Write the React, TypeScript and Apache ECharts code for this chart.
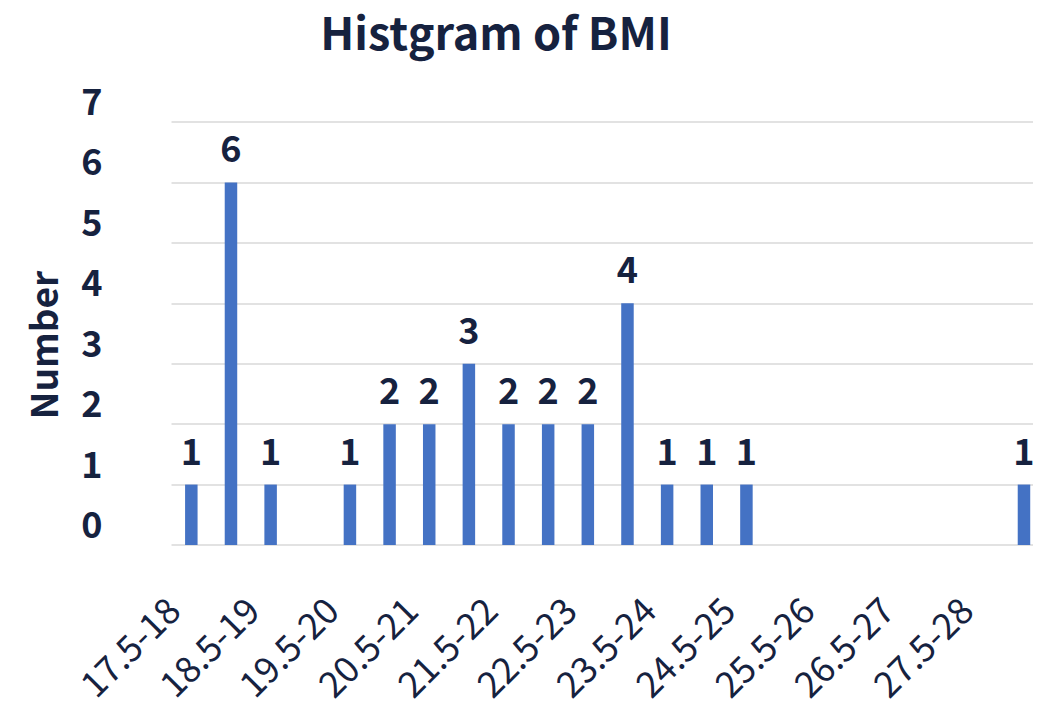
import React, { useEffect, useRef } from "react";
import * as echarts from "echarts";

const categories = [
  "17.5-18", "18-18.5", "18.5-19", "19-19.5", "19.5-20", "20-20.5", "20.5-21", "21-21.5",
  "21.5-22", "22-22.5", "22.5-23", "23-23.5", "23.5-24", "24-24.5", "24.5-25", "25-25.5",
  "25.5-26", "26-26.5", "26.5-27", "27-27.5", "27.5-28", "28-28.5",
];
const counts = [1, 6, 1, 0, 1, 2, 2, 3, 2, 2, 2, 4, 1, 1, 1, 0, 0, 0, 0, 0, 0, 1];
const xTickLabels = [
  "17.5-18", "18.5-19", "19.5-20", "20.5-21", "21.5-22", "22.5-23",
  "23.5-24", "24.5-25", "25.5-26", "26.5-27", "27.5-28",
];
const yTicks = [0, 1, 2, 3, 4, 5, 6, 7];

const FONT = "'Noto Sans CJK JP', 'Noto Sans', sans-serif";
const INK = "#16223F";

export default function App() {
  const ref = useRef<HTMLDivElement>(null);
  useEffect(() => {
    if (!ref.current) return;
    const chart = echarts.init(ref.current, null, { renderer: "svg" });
    chart.setOption({
      animation: false,
      title: {
        text: "Histgram of BMI",
        left: 491,
        textAlign: "center",
        top: 3,
        textStyle: { fontFamily: FONT, fontSize: 45, fontWeight: "bold", color: INK },
      },
      graphic: [
        {
          type: "text",
          x: 42,
          y: 345,
          rotation: Math.PI / 2,
          style: {
            text: "Number",
            fontFamily: FONT,
            fontSize: 37,
            fontWeight: "bold",
            fill: INK,
            align: "center",
            verticalAlign: "middle",
          },
        },
      ],
      grid: { left: 171.5, top: 122, width: 872.3, height: 423, containLabel: false },
      xAxis: [
        {
          type: "category",
          data: categories,
          axisLine: { show: false },
          axisTick: { show: false },
          axisLabel: { show: false },
        },
        {
          type: "value",
          min: 0,
          max: categories.length,
          interval: 2,
          position: "bottom",
          axisLine: { show: false },
          axisTick: { show: false },
          splitLine: { show: false },
          axisLabel: {
            rotate: 45,
            margin: 57,
            fontFamily: FONT,
            fontSize: 36,
            color: INK,
            formatter: (v: number) => xTickLabels[Math.round(v / 2)] ?? "",
          },
        },
      ],
      yAxis: {
        type: "value",
        min: 0,
        max: 7,
        interval: 1,
        axisLine: { show: false },
        axisTick: { show: false },
        splitLine: { lineStyle: { color: "#D9D9D9", width: 1.5 } },
        axisLabel: {
          margin: 69,
          fontFamily: FONT,
          fontSize: 36,
          fontWeight: "bold",
          color: INK,
          verticalAlign: "bottom",
          lineHeight: 46,
          formatter: (v: number) => (yTicks.includes(v) ? String(v) : ""),
        },
      },
      series: [
        {
          type: "bar",
          xAxisIndex: 0,
          data: counts,
          barWidth: 12.5,
          itemStyle: { color: "#4472C4" },
          label: {
            show: true,
            position: "top",
            distance: 18,
            fontFamily: FONT,
            fontSize: 36,
            fontWeight: "bold",
            color: INK,
            formatter: (p: any) => (p.value === 0 ? "" : String(p.value)),
          },
        },
      ],
    });
    return () => chart.dispose();
  }, []);
  return (
    <div style={{ margin: -8, width: 1041, height: 707, overflow: "hidden" }}>
      <div ref={ref} style={{ width: 1050, height: 707 }} />
    </div>
  );
}
